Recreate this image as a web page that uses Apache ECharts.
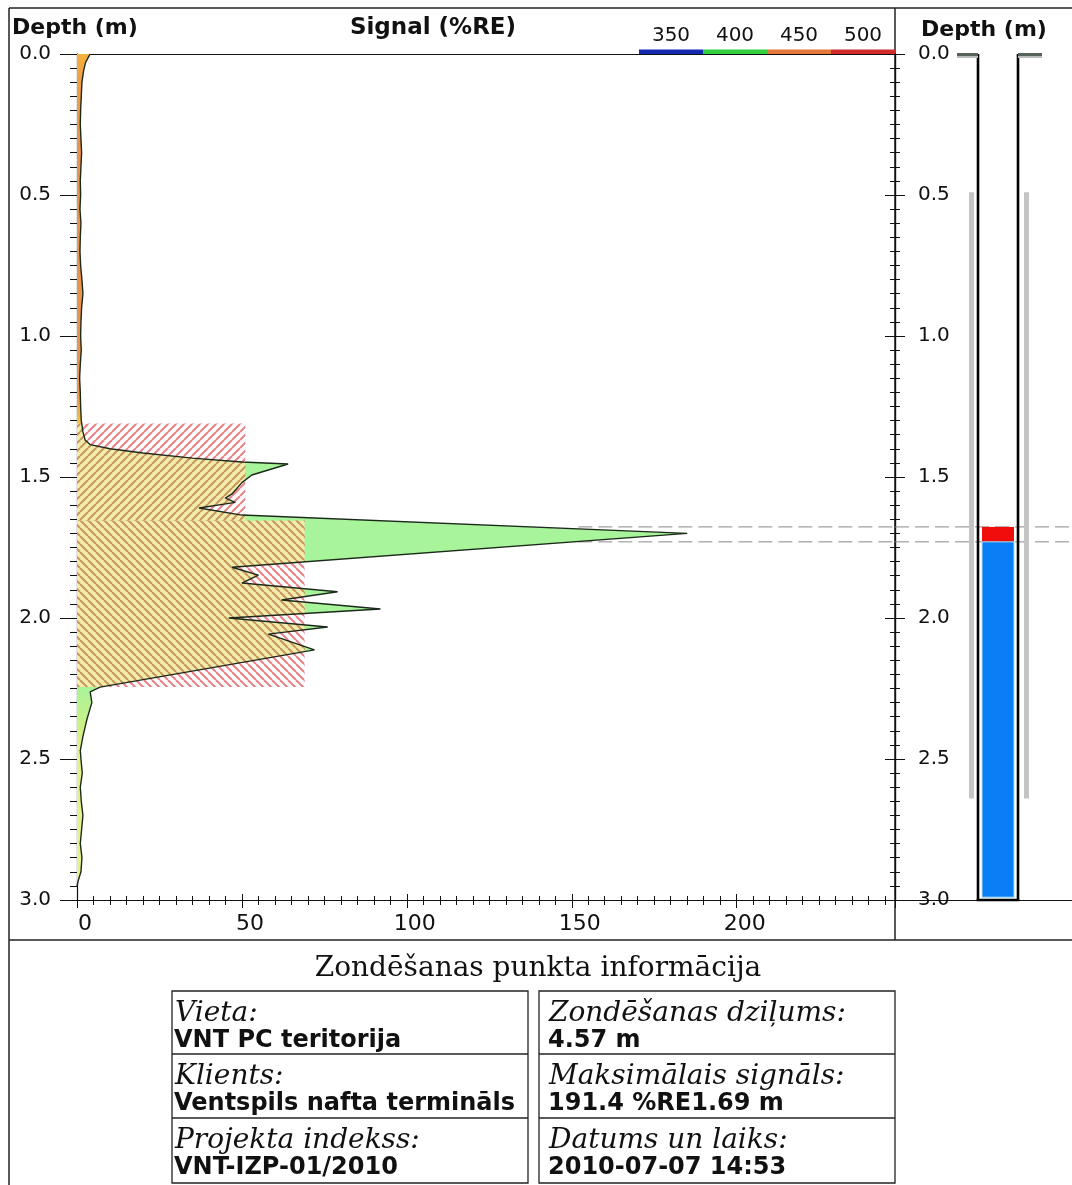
<!DOCTYPE html>
<html><head><meta charset="utf-8">
<script src="https://cdn.jsdelivr.net/npm/echarts@6/dist/echarts.min.js"></script>
<style>html,body{margin:0;padding:0;background:#fff}#c{width:1072px;height:1185px}</style>
</head><body><div id="c"></div>
<script>
// ---------------- DATA ----------------
const depth = [0.00,0.01,0.03,0.06,0.10,0.15,0.20,0.25,0.30,0.35,0.40,0.45,0.50,0.55,0.60,0.65,0.70,0.75,0.80,0.85,0.90,0.95,1.00,1.05,1.10,1.15,1.20,1.25,1.30,1.34,1.37,1.385,1.40,1.415,1.433,1.447,1.454,1.493,1.52,1.56,1.575,1.59,1.61,1.635,1.70,1.82,1.848,1.876,1.907,1.936,1.968,2.00,2.032,2.057,2.113,2.245,2.262,2.30,2.36,2.42,2.47,2.50,2.55,2.60,2.65,2.70,2.75,2.80,2.85,2.90,2.93,2.95];
const signal = [4.0,3.5,2.6,2.0,1.5,1.3,1.1,1.0,1.2,1.4,1.2,1.0,1.1,0.9,1.2,1.0,0.9,1.1,1.5,1.8,1.4,1.2,1.1,1.3,1.0,0.8,1.0,1.1,1.3,1.8,2.5,4,10,20,35,50,64,53,50,47,45,48,37,50,185,47,55,50,79,62,92,46,76,58,72,7,4,4.5,3,1.8,1.0,1.2,1.6,1.0,1.3,1.8,1.4,1.0,1.5,1.2,0.4,0];
const hatchFrom = [1.31, 1.655];
const hatchTo = [1.655, 2.245];
const hatchSignal = [51, 69];
const peakDepths = [1.677, 1.73];
const zoneFrom = [1.677, 1.73];
const zoneTo = [1.73, 2.99];
const casingDepth = [0.49, 2.64];
const wellDepth = [0, 3.0];
const legendLabels = ['350', '400', '450', '500'];
const infoTitle = 'Zondēšanas punkta informācija';
const infoLabelsLeft = ['Vieta:', 'Klients:', 'Projekta indekss:'];
const infoValuesLeft = ['VNT PC teritorija', 'Ventspils nafta termināls', 'VNT-IZP-01/2010'];
const infoLabelsRight = ['Zondēšanas dziļums:', 'Maksimālais signāls:', 'Datums un laiks:'];
const infoValuesRight = ['4.57 m', '191.4 %RE1.69 m', '2010-07-07 14:53'];

// ---------------- STYLE / LAYOUT ----------------
const SANS = 'DejaVu Sans';
const SERIF = 'DejaVu Serif';
const X_MAX = 248;
const DASH_START = 152;
const legendColors = ['#1428b0', '#32d040', '#e5783a', '#d42a2a'];
const zoneColors = ['#f20d0d', '#0a7ff5'];

function makeHatch(dir, bg, fg) {
  const s = 8;
  const c = document.createElement('canvas');
  c.width = s; c.height = s;
  const ctx = c.getContext('2d');
  if (bg) { ctx.fillStyle = bg; ctx.fillRect(0, 0, s, s); }
  ctx.strokeStyle = fg;
  ctx.lineWidth = 2.1;
  for (let k = -1; k <= 1; k++) {
    ctx.beginPath();
    if (dir > 0) { ctx.moveTo(k * s, s); ctx.lineTo(k * s + s, 0); }
    else { ctx.moveTo(k * s, 0); ctx.lineTo(k * s + s, s); }
    ctx.stroke();
  }
  return c;
}
const OUT_STRIPE = 'rgba(228,100,108,0.8)';
const IN_BG = '#f3ecae';
const IN_STRIPE = '#c69a5c';
const hatchOuter = [makeHatch(1, null, OUT_STRIPE), makeHatch(-1, null, OUT_STRIPE)];
const hatchInner = [makeHatch(1, IN_BG, IN_STRIPE), makeHatch(-1, IN_BG, IN_STRIPE)];

const fillGradient = new echarts.graphic.LinearGradient(0, 0, 0, 1, [
  {offset: 0.0, color: '#f4b23a'},
  {offset: 0.03, color: '#eea048'},
  {offset: 0.1, color: '#e8944e'},
  {offset: 0.4, color: '#e8944e'},
  {offset: 0.433, color: '#f2c040'},
  {offset: 0.46, color: '#d8ea70'},
  {offset: 0.48, color: '#a8f49a'},
  {offset: 0.75, color: '#a8f49a'},
  {offset: 0.79, color: '#c8f088'},
  {offset: 0.82, color: '#e4f08c'},
  {offset: 1.0, color: '#e6f290'}
]);

function curveAt(d) {
  for (let i = 1; i < depth.length; i++) {
    if (depth[i] >= d) {
      const r = (d - depth[i - 1]) / (depth[i] - depth[i - 1]);
      return signal[i - 1] + r * (signal[i] - signal[i - 1]);
    }
  }
  return 0;
}
// part of the filled area that lies inside one hatch block (data space)
function clippedArea(f, t, W) {
  const seg = [[curveAt(f), f]];
  for (let i = 0; i < depth.length; i++) if (depth[i] > f && depth[i] < t) seg.push([signal[i], depth[i]]);
  seg.push([curveAt(t), t]);
  const pts = [[0, f]];
  for (let k = 0; k < seg.length; k++) {
    if (k > 0) {
      const a = seg[k - 1], b = seg[k];
      if ((a[0] - W) * (b[0] - W) < 0) {
        const r = (W - a[0]) / (b[0] - a[0]);
        pts.push([W, a[1] + r * (b[1] - a[1])]);
      }
    }
    pts.push([Math.min(seg[k][0], W), seg[k][1]]);
  }
  pts.push([0, t]);
  return pts;
}

const chart = echarts.init(document.getElementById('c'), null, {renderer: 'canvas'});

const depthAxisBase = {
  type: 'value', min: 0, max: 3, interval: 0.5, inverse: true,
  splitLine: {show: false},
  axisLine: {show: true, onZero: false, lineStyle: {color: '#111', width: 1.2}},
  minorTick: {show: true, splitNumber: 10, length: 7, lineStyle: {color: '#111'}},
  axisTick: {show: true, length: 17, lineStyle: {color: '#111'}},
  axisLabel: {show: false}
};
const sigAxisBase = {
  type: 'value', min: 0, max: X_MAX, interval: 50,
  splitLine: {show: false},
  axisLine: {show: false, onZero: false, lineStyle: {color: '#111', width: 1.2}},
  axisTick: {show: false}, minorTick: {show: false}, axisLabel: {show: false}
};

const series = [];
// fill polygon
series.push({
  type: 'custom', xAxisIndex: 0, yAxisIndex: 0, z: 2, silent: true,
  data: [[0, 0]],
  renderItem: function (params, api) {
    const pts = [api.coord([0, depth[0]])];
    for (let i = 0; i < depth.length; i++) pts.push(api.coord([signal[i], depth[i]]));
    pts.push(api.coord([0, 3]));
    return {type: 'polygon', shape: {points: pts}, style: {fill: fillGradient}};
  }
});
// hatch blocks
series.push({
  type: 'custom', xAxisIndex: 0, yAxisIndex: 0, z: 3, silent: true,
  data: hatchFrom.map((f, i) => [0, f, hatchTo[i], hatchSignal[i], i]),
  renderItem: function (params, api) {
    const f = api.value(1), t = api.value(2), W = api.value(3), i = api.value(4);
    const p1 = api.coord([0, f]);
    const p2 = api.coord([W, t]);
    const inner = clippedArea(f, t, W).map(p => api.coord(p));
    return {type: 'group', children: [
      {type: 'rect', shape: {x: p1[0], y: p1[1], width: p2[0] - p1[0], height: p2[1] - p1[1]},
        style: {fill: {image: hatchOuter[i], repeat: 'repeat'}}},
      {type: 'polygon', shape: {points: inner}, style: {fill: {image: hatchInner[i], repeat: 'repeat'}}}
    ]};
  }
});
// outline
series.push({
  type: 'line', xAxisIndex: 0, yAxisIndex: 0, z: 4, silent: true,
  data: depth.map((d, i) => [signal[i], d]),
  symbol: 'none', lineStyle: {color: '#1c2a1c', width: 1.4}
});
// dashed peak lines (main + right panel)
peakDepths.forEach(d => {
  series.push({type: 'line', xAxisIndex: 0, yAxisIndex: 0, z: 1, silent: true, symbol: 'none',
    data: [[DASH_START, d], [X_MAX, d]], lineStyle: {color: '#8a8a8a', width: 1, type: [14, 6]}});
  series.push({type: 'line', xAxisIndex: 3, yAxisIndex: 2, z: 1, silent: true, symbol: 'none',
    data: [[0, d], [177, d]], lineStyle: {color: '#8a8a8a', width: 1, type: [14, 6]}});
});
// casing
series.push({
  type: 'custom', xAxisIndex: 3, yAxisIndex: 2, z: 3, silent: true,
  data: [[0, casingDepth[0], casingDepth[1]]],
  renderItem: function (params, api) {
    const a = api.coord([74, api.value(1)]);
    const b = api.coord([79, api.value(2)]);
    const c = api.coord([129, api.value(1)]);
    const d = api.coord([134, api.value(2)]);
    return {type: 'group', children: [
      {type: 'rect', shape: {x: a[0], y: a[1], width: b[0] - a[0], height: b[1] - a[1]}, style: {fill: '#c4c4c4'}},
      {type: 'rect', shape: {x: c[0], y: c[1], width: d[0] - c[0], height: d[1] - c[1]}, style: {fill: '#c4c4c4'}}
    ]};
  }
});
// zones
series.push({
  type: 'custom', xAxisIndex: 3, yAxisIndex: 2, z: 5, silent: true,
  data: zoneFrom.map((f, i) => [0, f, zoneTo[i], i]),
  renderItem: function (params, api) {
    const a = api.coord([87, api.value(1)]);
    const b = api.coord([119, api.value(2)]);
    const i = api.value(3);
    return {type: 'rect', shape: {x: a[0], y: a[1], width: b[0] - a[0], height: b[1] - a[1]},
      style: {fill: zoneColors[i], stroke: i === 1 ? '#a8dcf2' : null, lineWidth: 1}};
  }
});
// well walls
series.push({
  type: 'custom', xAxisIndex: 3, yAxisIndex: 2, z: 6, silent: true,
  data: [[0, wellDepth[0], wellDepth[1]]],
  renderItem: function (params, api) {
    const tl = api.coord([83, api.value(1)]);
    const br = api.coord([123, api.value(2)]);
    const c1 = api.coord([62, api.value(1)]);
    const c2 = api.coord([147, api.value(1)]);
    const ls = {stroke: '#000', lineWidth: 2.6};
    return {type: 'group', children: [
      {type: 'line', shape: {x1: tl[0], y1: tl[1], x2: tl[0], y2: br[1]}, style: ls},
      {type: 'line', shape: {x1: br[0], y1: tl[1], x2: br[0], y2: br[1]}, style: ls},
      {type: 'line', shape: {x1: tl[0] - 1.3, y1: br[1], x2: br[0] + 1.3, y2: br[1]}, style: ls},
      {type: 'rect', shape: {x: c1[0], y: tl[1] - 1, width: tl[0] - c1[0], height: 3}, style: {fill: '#56635b'}},
      {type: 'rect', shape: {x: br[0], y: tl[1] - 1, width: c2[0] - br[0], height: 3}, style: {fill: '#56635b'}},
      {type: 'rect', shape: {x: c1[0], y: tl[1] + 2, width: tl[0] - c1[0], height: 2}, style: {fill: '#b8bdb9'}},
      {type: 'rect', shape: {x: br[0], y: tl[1] + 2, width: c2[0] - br[0], height: 2}, style: {fill: '#b8bdb9'}}
    ]};
  }
});

// ---------------- GRAPHIC ----------------
const g = [];
const frame = {stroke: '#222', lineWidth: 1.5};
g.push({type: 'line', shape: {x1: 9, y1: 8, x2: 1072, y2: 8}, style: frame});
g.push({type: 'line', shape: {x1: 9, y1: 8, x2: 9, y2: 1185}, style: frame});
g.push({type: 'line', shape: {x1: 895, y1: 8, x2: 895, y2: 940}, style: frame});
g.push({type: 'line', shape: {x1: 9, y1: 940, x2: 1072, y2: 940}, style: frame});
legendLabels.forEach((t, i) => {
  g.push({type: 'rect', shape: {x: 639 + 64 * i, y: 49.5, width: 64, height: 4.5}, style: {fill: legendColors[i]}});
  g.push({type: 'text', x: 671 + 64 * i, y: 36, style: {text: t, font: '20px "' + SANS + '"', fill: '#111', align: 'center', verticalAlign: 'middle'}});
});
g.push({type: 'text', x: 12, y: 28, style: {text: 'Depth (m)', font: 'bold 22px "' + SANS + '"', fill: '#111', verticalAlign: 'middle'}});
g.push({type: 'text', x: 433, y: 28, style: {text: 'Signal (%RE)', font: 'bold 23px "' + SANS + '"', fill: '#111', align: 'center', verticalAlign: 'middle'}});
g.push({type: 'text', x: 984, y: 30, style: {text: 'Depth (m)', font: 'bold 22px "' + SANS + '"', fill: '#111', align: 'center', verticalAlign: 'middle'}});
g.push({type: 'text', x: 538, y: 969, style: {text: infoTitle, font: '28px "' + SERIF + '"', fill: '#111', align: 'center', verticalAlign: 'middle'}});

function table(x0, x1, pad, labels, values) {
  const rows = [991, 1054, 1118, 1183];
  g.push({type: 'rect', shape: {x: x0, y: rows[0], width: x1 - x0, height: rows[3] - rows[0]}, style: {fill: null, stroke: '#222', lineWidth: 1.3}});
  for (let r = 1; r < 3; r++) g.push({type: 'line', shape: {x1: x0, y1: rows[r], x2: x1, y2: rows[r]}, style: {stroke: '#222', lineWidth: 1.3}});
  labels.forEach((t, r) => {
    g.push({type: 'text', x: x0 + pad + 1, y: rows[r] + 23, style: {text: t, font: 'italic 28px "' + SERIF + '"', fill: '#111', verticalAlign: 'middle'}});
    g.push({type: 'text', x: x0 + pad, y: rows[r] + 50, style: {text: values[r], font: 'bold 24px "' + SANS + '"', fill: '#111', verticalAlign: 'middle'}});
  });
}
table(172, 528, 2, infoLabelsLeft, infoValuesLeft);
table(539, 895, 9, infoLabelsRight, infoValuesRight);

chart.setOption({
  animation: false,
  backgroundColor: '#fff',
  grid: [
    {left: 77, top: 54, width: 818, height: 846},
    {left: 895, top: 54, width: 177, height: 846}
  ],
  xAxis: [
    Object.assign({}, sigAxisBase, {gridIndex: 0, position: 'bottom',
      axisLine: {show: true, onZero: false, lineStyle: {color: '#111', width: 1.2}},
      axisTick: {show: true, length: 8, lineStyle: {color: '#111'}},
      minorTick: {show: true, splitNumber: 10, length: 5, lineStyle: {color: '#111'}},
      axisLabel: {show: true, showMaxLabel: false, margin: 13, padding: [0, 0, 0, 16], color: '#111', fontFamily: SANS, fontSize: 22}}),
    Object.assign({}, sigAxisBase, {gridIndex: 0, position: 'bottom',
      axisTick: {show: true, inside: true, length: 6, lineStyle: {color: '#111'}},
      minorTick: {show: true, splitNumber: 10, length: 4, lineStyle: {color: '#111'}}}),
    Object.assign({}, sigAxisBase, {gridIndex: 0, position: 'top',
      axisLine: {show: true, onZero: false, lineStyle: {color: '#111', width: 1.2}}}),
    {type: 'value', gridIndex: 1, min: 0, max: 177, position: 'bottom', splitLine: {show: false},
      axisLine: {show: true, onZero: false, lineStyle: {color: '#111', width: 1.2}},
      axisTick: {show: false}, axisLabel: {show: false}}
  ],
  yAxis: [
    Object.assign({}, depthAxisBase, {gridIndex: 0, position: 'left',
      axisLabel: {show: true, margin: 26, color: '#111', fontFamily: SANS, fontSize: 20, formatter: v => v.toFixed(1)}}),
    Object.assign({}, depthAxisBase, {gridIndex: 0, position: 'right',
      axisTick: {show: true, inside: true, length: 6, lineStyle: {color: '#111'}},
      minorTick: {show: true, splitNumber: 10, length: 5, lineStyle: {color: '#111'}}}),
    Object.assign({}, depthAxisBase, {gridIndex: 1, position: 'left',
      axisTick: {show: true, inside: true, length: 10, lineStyle: {color: '#111'}},
      minorTick: {show: true, splitNumber: 10, length: 5, lineStyle: {color: '#111'}},
      axisLabel: {show: true, inside: true, margin: 23, color: '#111', fontFamily: SANS, fontSize: 20, formatter: v => v.toFixed(1)}}),
    Object.assign({}, depthAxisBase, {gridIndex: 1, position: 'right',
      axisLine: {show: false},
      axisTick: {show: true, inside: true, length: 10, lineStyle: {color: '#111'}},
      minorTick: {show: true, splitNumber: 10, length: 5, lineStyle: {color: '#111'}}})
  ],
  series: series,
  graphic: g
});
</script>
</body></html>
